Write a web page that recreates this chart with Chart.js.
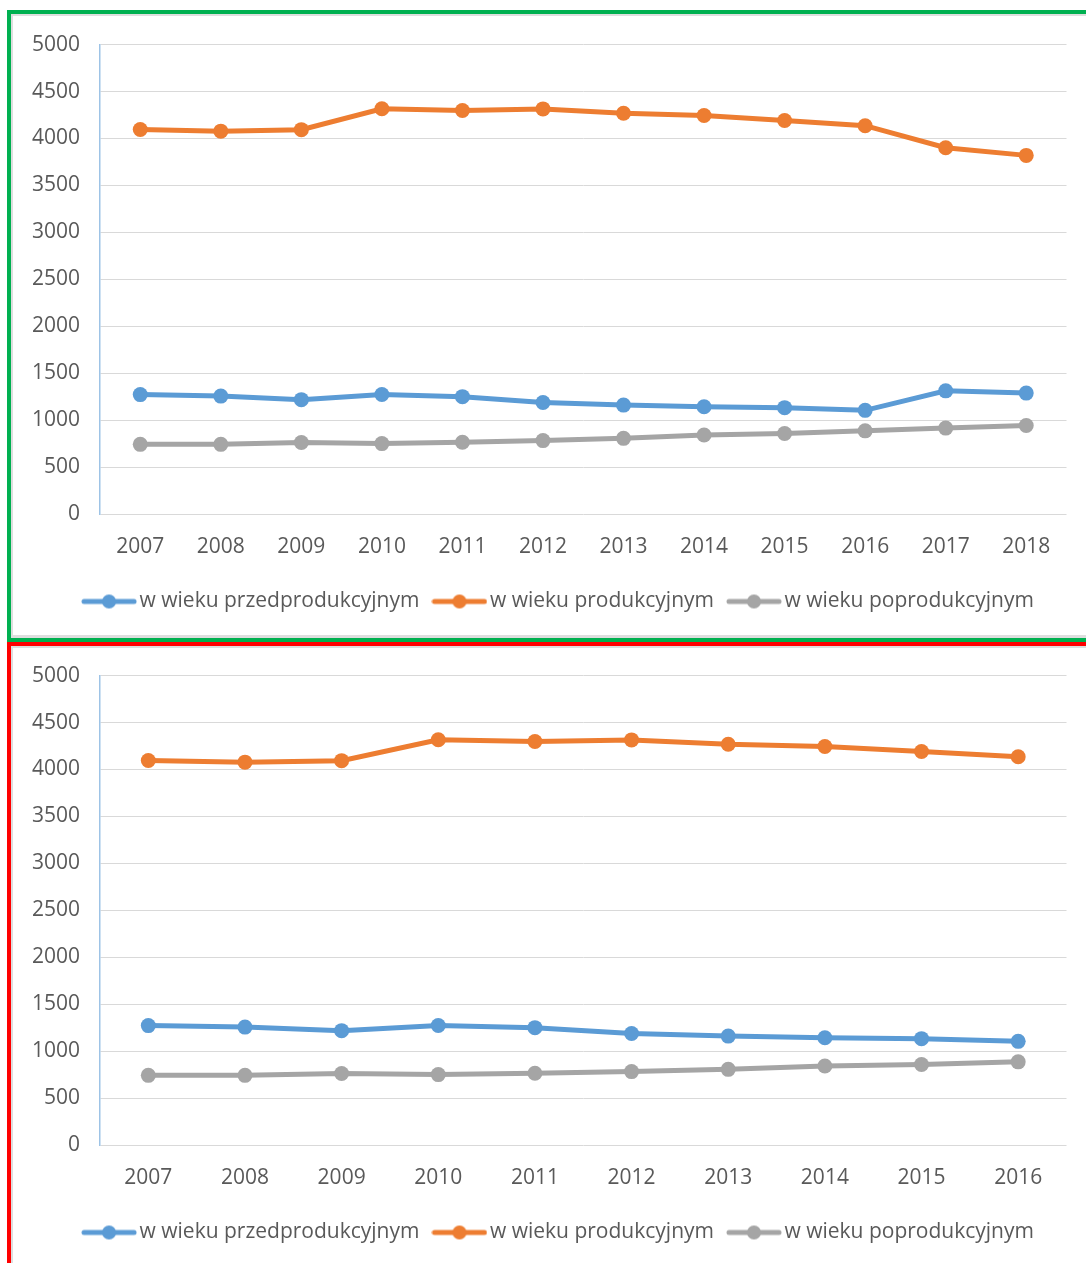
<!DOCTYPE html>
<html>
<head>
<meta charset="utf-8">
<script src="https://cdn.jsdelivr.net/npm/chart.js@4/dist/chart.umd.min.js"></script>
<style>
    body { margin: 0; width: 1086px; height: 1263px; overflow: hidden; background: #fff; position: relative; font-family: "Open Sans", sans-serif; }
    .box { position: absolute; left: 7px; width: 1110px; box-sizing: border-box; overflow: hidden; background: #fff; }
    #topBox { top: 10px; height: 632px; border: 4px solid #00b050; box-shadow: inset 2px 2px 0 #dedede, inset 0 -3px 0 #dedede; }
    #bottomBox { top: 642px; height: 640px; border-top: 4px solid #ff0000; border-left: 4px solid #ff0000; box-shadow: inset 2px 2px 0 #dedede; }
    .wrap { position: absolute; left: 0; width: 1063px; height: 660px; }
    #topBox .wrap { top: -2px; }
    #bottomBox .wrap { top: -3px; }
</style>
</head>
<body>
<div class="box" id="topBox"><div class="wrap"><canvas id="chartTop"></canvas></div></div>
<div class="box" id="bottomBox"><div class="wrap"><canvas id="chartBottom"></canvas></div></div>
<script>
// lata i dane
const yearsTop = ['2007', '2008', '2009', '2010', '2011', '2012', '2013', '2014', '2015', '2016', '2017', '2018'];
const yearsBottom = ['2007', '2008', '2009', '2010', '2011', '2012', '2013', '2014', '2015', '2016'];
const seriesNames = ['w wieku przedprodukcyjnym', 'w wieku produkcyjnym', 'w wieku poprodukcyjnym'];
const przedprodukcyjny = [1272, 1256, 1218, 1273, 1250, 1188, 1160, 1143, 1133, 1104, 1312, 1288];
const produkcyjny = [4095, 4078, 4094, 4316, 4298, 4315, 4268, 4245, 4192, 4136, 3902, 3820];
const poprodukcyjny = [742, 742, 762, 750, 765, 782, 806, 842, 858, 886, 915, 942];
const yTicks = [0, 500, 1000, 1500, 2000, 2500, 3000, 3500, 4000, 4500, 5000];

const colors = ['#5b9bd5', '#ed7d31', '#a5a5a5'];
const textColor = '#595959';

// znacznik legendy: linia z kropka jak w Excelu
const legendMarker = function (color) {
    let c = document.createElement('canvas');
    c.width = 56;
    c.height = 16;
    let ctx = c.getContext('2d');
    ctx.strokeStyle = color;
    ctx.lineWidth = 5;
    ctx.lineCap = 'round';
    ctx.beginPath();
    ctx.moveTo(3, 8);
    ctx.lineTo(53, 8);
    ctx.stroke();
    ctx.fillStyle = color;
    ctx.beginPath();
    ctx.arc(28, 8, 7, 0, Math.PI * 2);
    ctx.fill();
    return c;
}
const markers = colors.map(legendMarker);

// legenda w Excelu jest przesunieta w prawo wzgledem srodka
const shiftLegend = {
    id: 'shiftLegend',
    afterLayout: function (chart) {
        chart.legend.left += 19;
        chart.legend.right += 19;
    }
};

const makeDataset = function (i, values, count) {
    return {
        label: seriesNames[i],
        data: values.slice(0, count),
        borderColor: colors[i],
        backgroundColor: colors[i],
        pointBackgroundColor: colors[i],
        pointBorderWidth: 0,
        pointRadius: 7.5,
        pointStyle: 'circle',
        borderWidth: 5,
        tension: 0
    };
}

const makeChart = function (id, labels) {
    let n = labels.length;
    let ctx = document.getElementById(id);
    return new Chart(ctx, {
        type: 'line',
        data: {
            labels: labels,
            datasets: [
                makeDataset(0, przedprodukcyjny, n),
                makeDataset(1, produkcyjny, n),
                makeDataset(2, poprodukcyjny, n)
            ]
        },
        plugins: [shiftLegend],
        options: {
            responsive: true,
            maintainAspectRatio: false,
            animation: false,
            layout: { padding: { top: 26, right: 0, left: 0, bottom: 50 } },
            plugins: {
                tooltip: { enabled: false },
                legend: {
                    position: 'bottom',
                    labels: {
                        usePointStyle: true,
                        pointStyleWidth: 40,
                        padding: 20,
                        color: textColor,
                        font: { family: 'Open Sans', size: 21 },
                        generateLabels: function (chart) {
                            let items = Chart.defaults.plugins.legend.labels.generateLabels(chart);
                            items.forEach(function (item, i) { item.pointStyle = markers[i]; });
                            return items;
                        }
                    }
                }
            },
            scales: {
                x: {
                    offset: true,
                    grid: { display: false },
                    border: { display: false },
                    ticks: { color: textColor, padding: 12, font: { family: 'Open Sans', size: 21 } },
                    afterFit: function (scale) { scale.height = 57; }
                },
                y: {
                    min: 0,
                    max: 5000,
                    afterBuildTicks: function (scale) { scale.ticks = yTicks.map(v => ({ value: v })); },
                    grid: { color: '#d9d9d9', lineWidth: 1, drawTicks: false },
                    border: { display: true, color: '#9dc3e6', width: 1.5 },
                    ticks: {
                        color: textColor,
                        padding: 20,
                        font: { family: 'Open Sans', size: 21 },
                        callback: function (value) { return String(value); }
                    },
                    afterFit: function (scale) { scale.width = 89; }
                }
            }
        }
    });
}

makeChart('chartTop', yearsTop);
makeChart('chartBottom', yearsBottom);
</script>
</body>
</html>
